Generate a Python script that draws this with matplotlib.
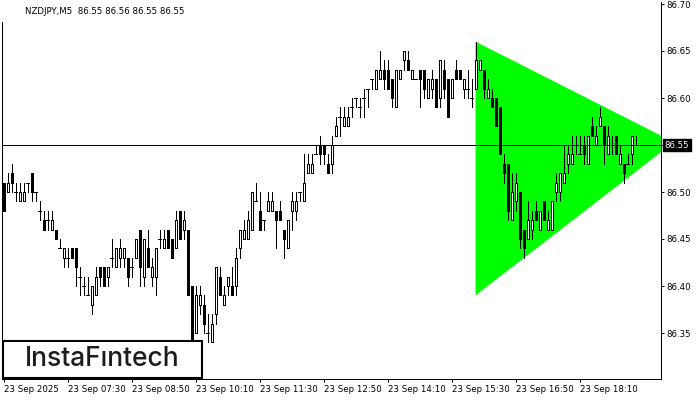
import matplotlib
matplotlib.use("Agg")
import matplotlib.pyplot as plt
from matplotlib.patches import Rectangle, Polygon
from matplotlib.transforms import blended_transform_factory

# ---------------- data ----------------
title_text = "NZDJPY,M5  86.55 86.56 86.55 86.55"
logo_text = "InstaF\u0131ntech"

opens = [
    86.51, 86.50, 86.52, 86.50, 86.49, 86.49, 86.51, 86.52, 86.50, 86.48,
    86.47, 86.47, 86.46, 86.46, 86.44, 86.43, 86.43, 86.44, 86.44, 86.41,
    86.40, 86.39, 86.38, 86.39, 86.42, 86.42, 86.41, 86.43, 86.42, 86.43,
    86.43, 86.43, 86.42, 86.43, 86.46, 86.41, 86.44, 86.41, 86.41, 86.45,
    86.44, 86.46, 86.45, 86.44, 86.48, 86.46, 86.46, 86.40, 86.35, 86.38,
    86.38, 86.35, 86.34, 86.37, 86.41, 86.38, 86.40, 86.40, 86.40, 86.44,
    86.45, 86.45, 86.46, 86.49, 86.48, 86.47, 86.48, 86.48, 86.48, 86.48,
    86.46, 86.44, 86.48, 86.48, 86.50, 86.49, 86.52, 86.52, 86.54, 86.55,
    86.55, 86.53, 86.53, 86.56, 86.58, 86.57, 86.57, 86.59, 86.60, 86.59,
    86.60, 86.61, 86.62, 86.61, 86.62, 86.63, 86.63, 86.62, 86.59, 86.62,
    86.64, 86.64, 86.62, 86.62, 86.63, 86.63, 86.60, 86.61, 86.62, 86.60,
    86.63, 86.62, 86.60, 86.63, 86.63, 86.61, 86.61, 86.60, 86.61, 86.63,
    86.63, 86.60, 86.60, 86.60, 86.59, 86.53, 86.53, 86.47, 86.49, 86.50,
    86.46, 86.45, 86.46, 86.48, 86.46, 86.49, 86.46, 86.46, 86.50, 86.50,
    86.51, 86.53, 86.53, 86.55, 86.54, 86.55, 86.53, 86.57, 86.55, 86.57,
    86.57, 86.54, 86.55, 86.56, 86.53, 86.53, 86.53, 86.54, 86.55,
]
highs = [
    86.51, 86.52, 86.53, 86.51, 86.51, 86.51, 86.51, 86.52, 86.50, 86.49,
    86.48, 86.48, 86.48, 86.46, 86.45, 86.44, 86.44, 86.44, 86.44, 86.42,
    86.41, 86.41, 86.40, 86.42, 86.42, 86.42, 86.42, 86.45, 86.44, 86.45,
    86.44, 86.43, 86.43, 86.45, 86.46, 86.45, 86.46, 86.43, 86.44, 86.46,
    86.46, 86.46, 86.45, 86.48, 86.48, 86.48, 86.46, 86.40, 86.40, 86.40,
    86.39, 86.37, 86.37, 86.42, 86.42, 86.40, 86.41, 86.42, 86.44, 86.46,
    86.47, 86.48, 86.50, 86.51, 86.50, 86.47, 86.50, 86.50, 86.48, 86.49,
    86.46, 86.47, 86.50, 86.50, 86.50, 86.54, 86.54, 86.54, 86.55, 86.56,
    86.55, 86.54, 86.56, 86.58, 86.59, 86.59, 86.59, 86.60, 86.60, 86.60,
    86.61, 86.61, 86.62, 86.63, 86.65, 86.64, 86.64, 86.62, 86.63, 86.63,
    86.65, 86.65, 86.63, 86.62, 86.63, 86.63, 86.62, 86.63, 86.62, 86.64,
    86.64, 86.62, 86.62, 86.64, 86.63, 86.62, 86.63, 86.62, 86.66, 86.64,
    86.63, 86.62, 86.61, 86.60, 86.59, 86.54, 86.53, 86.52, 86.52, 86.50,
    86.46, 86.49, 86.48, 86.49, 86.48, 86.49, 86.48, 86.49, 86.52, 86.52,
    86.55, 86.55, 86.56, 86.56, 86.56, 86.56, 86.56, 86.58, 86.57, 86.59,
    86.57, 86.57, 86.56, 86.56, 86.55, 86.53, 86.54, 86.56, 86.56,
]
lows = [
    86.48, 86.50, 86.50, 86.49, 86.49, 86.49, 86.50, 86.49, 86.49, 86.47,
    86.46, 86.46, 86.46, 86.45, 86.44, 86.42, 86.42, 86.43, 86.40, 86.39,
    86.39, 86.39, 86.37, 86.39, 86.40, 86.40, 86.40, 86.42, 86.42, 86.42,
    86.42, 86.40, 86.41, 86.43, 86.40, 86.40, 86.42, 86.40, 86.39, 86.44,
    86.44, 86.44, 86.43, 86.44, 86.45, 86.45, 86.39, 86.33, 86.35, 86.37,
    86.35, 86.34, 86.34, 86.36, 86.39, 86.38, 86.39, 86.39, 86.39, 86.43,
    86.45, 86.45, 86.46, 86.49, 86.46, 86.46, 86.48, 86.48, 86.44, 86.47,
    86.43, 86.44, 86.46, 86.47, 86.49, 86.49, 86.52, 86.52, 86.54, 86.53,
    86.53, 86.52, 86.52, 86.56, 86.56, 86.57, 86.57, 86.58, 86.59, 86.58,
    86.58, 86.59, 86.61, 86.61, 86.62, 86.61, 86.61, 86.59, 86.59, 86.62,
    86.63, 86.63, 86.62, 86.62, 86.59, 86.60, 86.60, 86.60, 86.59, 86.59,
    86.60, 86.58, 86.60, 86.62, 86.62, 86.60, 86.60, 86.59, 86.61, 86.63,
    86.60, 86.60, 86.59, 86.57, 86.54, 86.51, 86.47, 86.47, 86.48, 86.44,
    86.43, 86.45, 86.45, 86.47, 86.46, 86.47, 86.46, 86.46, 86.49, 86.49,
    86.51, 86.52, 86.53, 86.54, 86.54, 86.53, 86.53, 86.56, 86.55, 86.57,
    86.53, 86.54, 86.54, 86.54, 86.53, 86.51, 86.53, 86.53, 86.55,
]
closes = [
    86.48, 86.51, 86.51, 86.50, 86.50, 86.50, 86.51, 86.50, 86.50, 86.48,
    86.46, 86.47, 86.47, 86.45, 86.44, 86.44, 86.43, 86.43, 86.42, 86.41,
    86.40, 86.39, 86.40, 86.41, 86.41, 86.40, 86.42, 86.43, 86.44, 86.44,
    86.44, 86.41, 86.42, 86.45, 86.42, 86.45, 86.42, 86.42, 86.44, 86.45,
    86.45, 86.44, 86.43, 86.47, 86.45, 86.47, 86.39, 86.34, 86.39, 86.39,
    86.36, 86.35, 86.36, 86.42, 86.39, 86.39, 86.41, 86.39, 86.43, 86.46,
    86.46, 86.47, 86.50, 86.49, 86.46, 86.47, 86.49, 86.49, 86.47, 86.47,
    86.45, 86.47, 86.49, 86.49, 86.50, 86.51, 86.53, 86.53, 86.54, 86.54,
    86.54, 86.52, 86.55, 86.57, 86.58, 86.58, 86.58, 86.59, 86.60, 86.59,
    86.60, 86.61, 86.62, 86.63, 86.63, 86.62, 86.61, 86.60, 86.63, 86.63,
    86.65, 86.63, 86.63, 86.62, 86.62, 86.61, 86.62, 86.62, 86.59, 86.64,
    86.61, 86.58, 86.62, 86.62, 86.62, 86.62, 86.61, 86.60, 86.64, 86.64,
    86.61, 86.61, 86.59, 86.57, 86.54, 86.52, 86.48, 86.50, 86.51, 86.45,
    86.44, 86.47, 86.47, 86.47, 86.48, 86.47, 86.47, 86.49, 86.51, 86.52,
    86.52, 86.54, 86.54, 86.55, 86.54, 86.54, 86.56, 86.56, 86.56, 86.58,
    86.55, 86.56, 86.55, 86.54, 86.54, 86.52, 86.53, 86.56, 86.55,
]

xtick_bars = [0, 16, 32, 48, 64, 80, 96, 112, 128, 144]
xtick_labels = ["23 Sep 2025", "23 Sep 07:30", "23 Sep 08:50", "23 Sep 10:10",
                "23 Sep 11:30", "23 Sep 12:50", "23 Sep 14:10", "23 Sep 15:30",
                "23 Sep 16:50", "23 Sep 18:10"]
ytick_values = [86.35, 86.40, 86.45, 86.50, 86.55, 86.60, 86.65, 86.70]
current_price = 86.55

# symmetrical triangle pattern (bar index, price)
triangle_bars = [118, 118, 167.6]
triangle_prices = [86.66, 86.39, 86.553]

# ---------------- figure ----------------
W, H = 700, 400
fig = plt.figure(figsize=(7, 4), dpi=100)
fig.patch.set_facecolor("white")

ax_left, ax_right, ax_top, ax_bottom = 2, 660.7, 2, 379
ax = fig.add_axes([ax_left / W, (H - ax_bottom) / H,
                   (ax_right - ax_left) / W, (ax_bottom - ax_top) / H])
ax.set_facecolor("white")

px = 1.0 / 4.0  # one pixel in bar units
x0 = 3.5        # pixel of bar 0
ax.set_xlim(-(x0 - ax_left) * px, (ax_right - x0) * px)
ppx = 0.05 / 47.0  # price per pixel
ax.set_ylim(86.70 - (ax_bottom - 4) * ppx, 86.70 + (4 - ax_top) * ppx)

LW = 0.72
# triangle
ax.add_patch(Polygon(list(zip(triangle_bars, triangle_prices)), closed=True,
                     facecolor="#00FF00", edgecolor="none", zorder=1))

body_w = 0.5
for i, (o, h, l, c) in enumerate(zip(opens, highs, lows, closes)):
    ax.plot([i, i], [l, h], color="black", lw=LW, zorder=2,
            solid_capstyle="butt", antialiased=False)
    if abs(c - o) < 1e-9:
        ax.plot([i - 0.375, i + 0.375], [o, o], color="black", lw=LW,
                zorder=3, solid_capstyle="butt", antialiased=False)
    else:
        fc = "white" if c > o else "black"
        ax.add_patch(Rectangle((i - body_w / 2, min(o, c)), body_w, abs(c - o),
                               facecolor=fc, edgecolor="black", lw=LW,
                               zorder=3, antialiased=False))

ax.axhline(current_price, color="black", lw=LW, zorder=4)

# axes styling
for s in ["top"]:
    ax.spines[s].set_visible(False)
for s in ["left", "right", "bottom"]:
    ax.spines[s].set_linewidth(LW)
ax.spines["left"].set_bounds(ax.get_ylim()[0], 86.70 - (22 - 4) * ppx)

ax.yaxis.tick_right()
ax.set_yticks(ytick_values)
ax.set_yticklabels([f"{v:.2f}" for v in ytick_values])
ax.tick_params(axis="y", direction="out", length=2.5, width=LW, pad=1.8,
               labelsize=6.2, colors="black")
for lab, v in zip(ax.get_yticklabels(), ytick_values):
    if abs(v - current_price) < 1e-9:
        lab.set_visible(False)

ax.set_xticks(xtick_bars)
ax.set_xticklabels(xtick_labels, ha="left")
ax.tick_params(axis="x", direction="out", length=2.5, width=LW, pad=1.5,
               labelsize=6.2, colors="black")

# current price marker on the axis
trans = blended_transform_factory(ax.transAxes, ax.transData)
ax.text(1.0, current_price, f"{current_price:.2f}", transform=trans,
        fontsize=6.2, color="white", va="center", ha="left",
        bbox=dict(boxstyle="square,pad=0.22", facecolor="black", edgecolor="black"),
        clip_on=False, zorder=6)
# shift marker slightly right
ax.texts[-1].set_position((1.0 + 4.0 / (ax_right - ax_left), current_price))

# title
fig.text(25 / W, 1 - 11 / H, title_text, fontsize=6.2, color="black",
         va="center", ha="left")

# logo box
fig.add_artist(Rectangle((3 / W, (H - 377.5) / H), 198.5 / W, 36.5 / H,
                         transform=fig.transFigure, facecolor="white",
                         edgecolor="black", lw=1.5, zorder=10))
fig.text(102 / W, 1 - 359.5 / H, logo_text, fontsize=19, color="#1c1c1c",
         family=["Inter", "DejaVu Sans"], weight="medium",
         ha="center", va="center", zorder=11)

fig.savefig("out.png", dpi=100)
